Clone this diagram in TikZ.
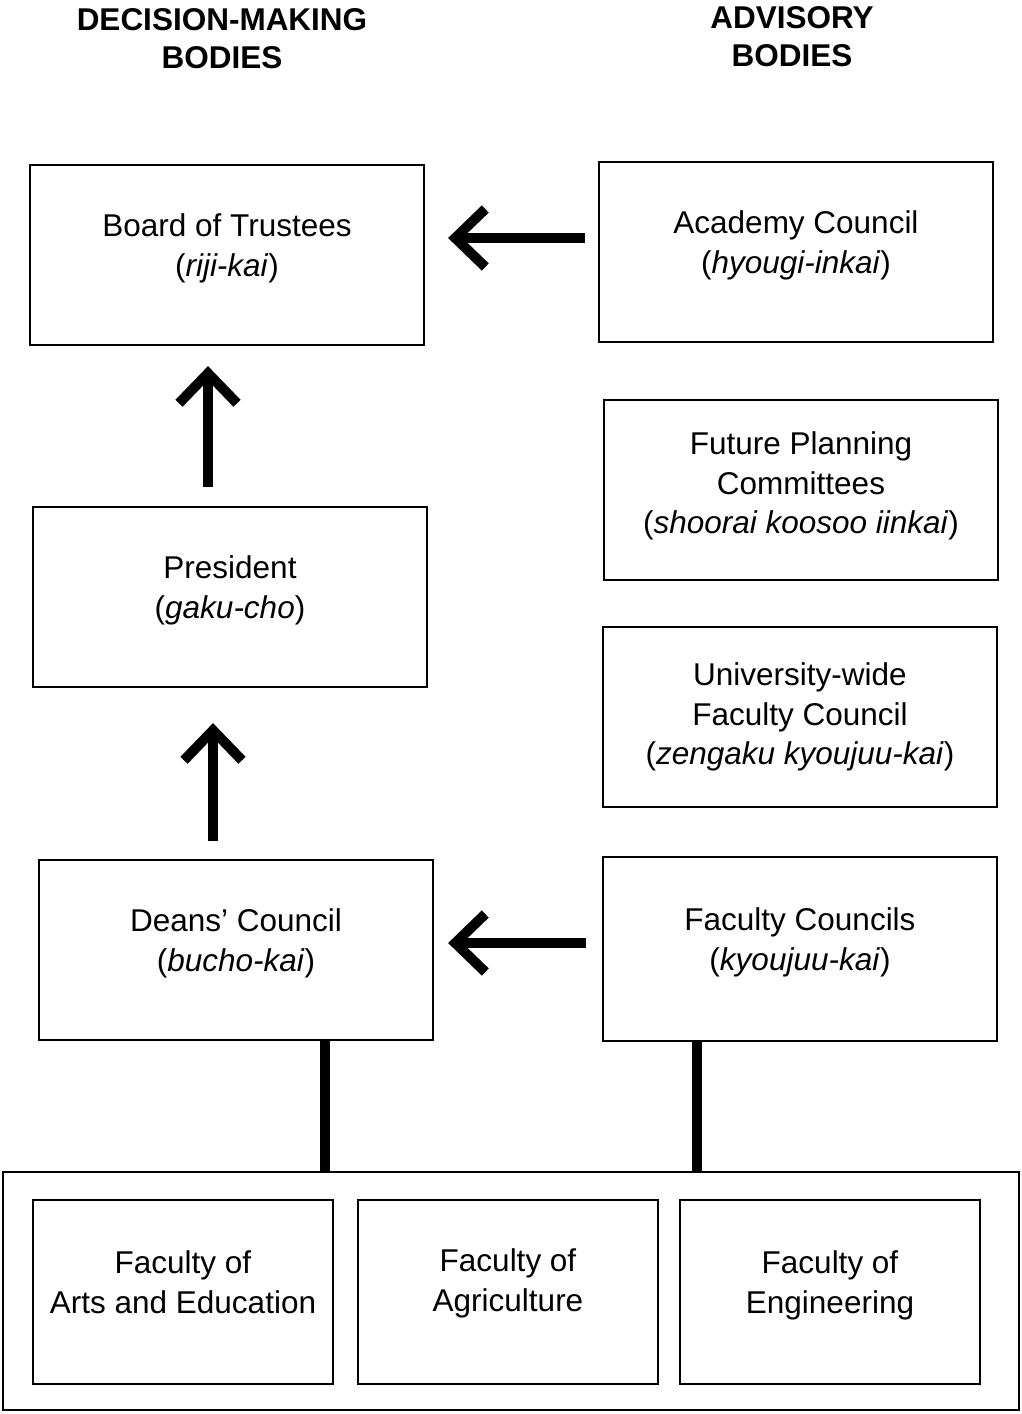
\documentclass[tikz,border=0pt]{standalone}
\usepackage{fontspec}
\setmainfont{Liberation Sans}
\usetikzlibrary{arrows.meta,positioning}

\begin{document}
\begin{tikzpicture}[x=1pt, y=-1pt,
	every node/.style = {font=\fontsize{31.5}{39.5}\selectfont},
	head/.style = {align=center, font=\fontsize{31.5}{38}\selectfont\bfseries},
	box/.style = {draw, line width=2.2pt, minimum width=394pt, minimum height=180pt, inner sep=0pt, align=center, text depth=20pt},
	facbox/.style = {box, minimum width=300pt, minimum height=184pt},
	arr/.style = {line width=10pt, -{Straight Barb[length=30pt, width=58pt]}},
	link/.style = {line width=10pt}]
	\useasboundingbox (0,0) rectangle (1021,1414);
	% column heads
	\node[head] (decision) at (222,39) {DECISION-MAKING\\BODIES};
	\node[head] (advisory) at (792,37) {ADVISORY\\BODIES};
	% decision-making bodies
	\node[box] (board) at (227,255) {Board of Trustees\\(\textit{riji-kai})};
	\node[box] (president) at (230,597) {President\\(\textit{gaku-cho})};
	\node[box] (deans) at (236,950) {Deans' Council\\(\textit{bucho-kai})};
	% advisory bodies
	\node[box] (academy) at (796,252) {Academy Council\\(\textit{hyougi-inkai})};
	\node[box, text depth=14pt] (future) at (801,490) {Future Planning\\Committees\\(\textit{shoorai koosoo iinkai})};
	\node[box, text depth=6pt] (univ) at (800,717) {University-wide\\Faculty Council\\(\textit{zengaku kyoujuu-kai})};
	\node[box, minimum height=184pt] (councils) at (800,949) {Faculty Councils\\(\textit{kyoujuu-kai})};
	% faculties
	\node[draw, line width=2.2pt, minimum width=1016pt, minimum height=238pt] (faculties) at (511,1291) {};
	\node[facbox] (arts) at (183,1292) {Faculty of\\Arts and Education};
	\node[facbox, text depth=24pt] (agri) at (508,1292) {Faculty of\\Agriculture};
	\node[facbox] (eng) at (830,1292) {Faculty of\\Engineering};
	% arrows
	\draw[arr, shorten <=13pt, shorten >=23pt] ([yshift=14pt]academy.west) -- ([yshift=14pt]academy.west -| board.east);
	\draw[arr, shorten <=19pt, shorten >=20pt] ([xshift=-22pt]president.north) -- ([xshift=-22pt]president.north |- board.south);
	\draw[arr, shorten <=18pt, shorten >=35pt] ([xshift=-23pt]deans.north) -- ([xshift=-23pt]deans.north |- president.south);
	\draw[arr, shorten <=16pt, shorten >=14pt] ([yshift=6pt]councils.west) -- ([yshift=6pt]councils.west -| deans.east);
	\draw[link] ([xshift=89pt]deans.south) -- ([xshift=89pt]deans.south |- faculties.north);
	\draw[link] ([xshift=-103pt]councils.south) -- ([xshift=-103pt]councils.south |- faculties.north);
\end{tikzpicture}
\end{document}
